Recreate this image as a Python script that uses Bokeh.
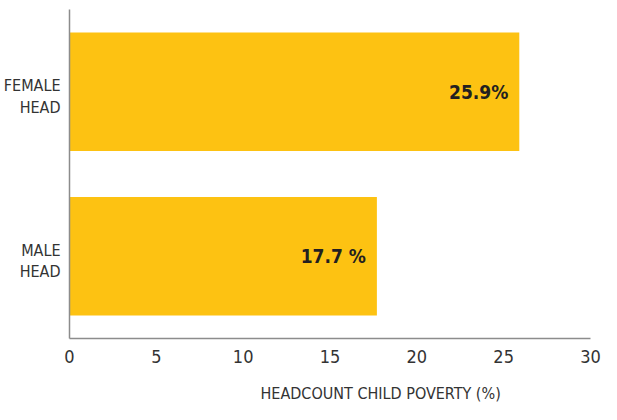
from bokeh.plotting import figure
from bokeh.models import ColumnDataSource, Title, FixedTicker, Range1d
from bokeh.core.properties import value
from bokeh.embed import file_html
from bokeh.resources import INLINE

categories = ["MALE HEAD", "FEMALE HEAD"]
values = [17.7, 25.9]
value_labels = ["17.7 %", "25.9%"]
x_ticks = [0, 5, 10, 15, 20, 25, 30]
# two-line category labels: one line per tick on the y axis
label_lines = ["MALE", "HEAD", "FEMALE", "HEAD"]

FONT = "DejaVu Sans Condensed"
BAR = "#FDC212"

# each category occupies one unit of the y axis, centred at i + 0.5
ypos = [i + 0.5 for i in range(len(categories))]
label_ticks = []
for c in ypos:
    label_ticks += [round(c + 0.035, 3), round(c - 0.095, 3)]

src = ColumnDataSource(dict(y=ypos, cat=categories, val=values, lab=value_labels))

p = figure(width=609, height=418, y_range=Range1d(0, len(categories)), x_range=(0, 30),
           output_backend="svg", toolbar_location=None,
           min_border_left=68, min_border_right=19, min_border_top=9, min_border_bottom=70)
p.outline_line_color = None
p.grid.grid_line_color = None

p.hbar(y="y", right="val", left=0, height=0.72, source=src, color=BAR, line_color=None)
p.text(x="val", y="y", text="lab", source=src, x_offset=-11, text_align="right",
       text_baseline="middle", text_font=value(FONT), text_font_style="bold",
       text_font_size="19px", text_color="#231F20")

for ax in (p.xaxis[0], p.yaxis[0]):
    ax.axis_line_color = "#8c8c8c"
    ax.axis_line_width = 1.5
    ax.major_tick_line_color = None
    ax.minor_tick_line_color = None
    ax.major_label_text_font = FONT
    ax.major_label_text_font_size = "18px"
    ax.major_label_text_color = "#333333"

p.yaxis.ticker = FixedTicker(ticks=label_ticks)
p.yaxis.major_label_overrides = {t: s for t, s in zip(label_ticks, label_lines)}
p.yaxis.major_label_text_font_size = "16px"
p.yaxis.major_label_standoff = 3
p.xaxis.ticker = FixedTicker(ticks=x_ticks)
p.xaxis.major_label_standoff = 5

p.add_layout(Title(text="HEADCOUNT CHILD POVERTY (%)", align="left", offset=191,
                   text_font=FONT, text_font_size="16px", text_font_style="normal",
                   text_color="#333333", standoff=32), "below")

open("out.html", "w").write(file_html(p, INLINE))
